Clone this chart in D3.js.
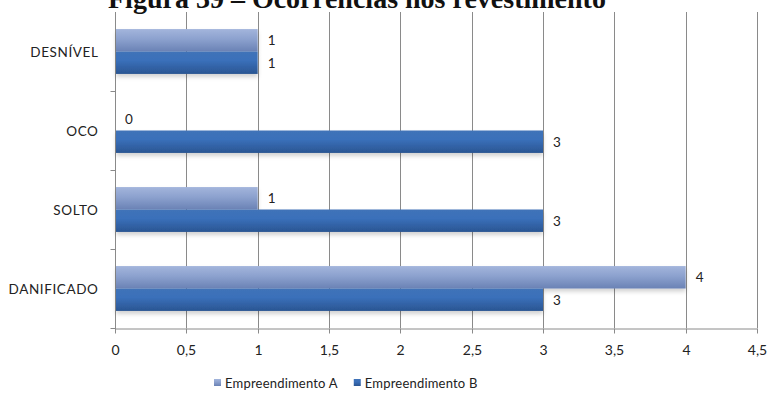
<!DOCTYPE html>
<html>
<head>
<meta charset="utf-8">
<script src="https://cdn.jsdelivr.net/npm/d3@7"></script>
<style>
  html, body { margin: 0; padding: 0; background: #fff; }
  svg { display: block; }
</style>
</head>
<body>
<svg id="chart" width="771" height="394"></svg>
<script>
// Data
const categories = ["DESNÍVEL", "OCO", "SOLTO", "DANIFICADO"];
const seriesNames = ["Empreendimento A", "Empreendimento B"];
const valuesA = [1, 0, 1, 4];
const valuesB = [1, 3, 3, 3];
const tickValues = [0, 0.5, 1, 1.5, 2, 2.5, 3, 3.5, 4, 4.5];
const titleText = "Figura 39 – Ocorrências nos revestimento";

(function draw() {
const svg = d3.select("#chart");
const plotLeft = 115, plotRight = 757, plotTop = 12, plotBottom = 328;
const sans = "Lato, 'Open Sans', sans-serif";

const x = d3.scaleLinear().domain([0, 4.5]).range([plotLeft, plotRight]);
const y = d3.scaleBand().domain(categories).range([plotTop, plotBottom]).padding(0);
const ySub = d3.scaleBand().domain(["A", "B"]).range([0, y.bandwidth()])
  .paddingInner(0).paddingOuter(0.76);

const defs = svg.append("defs");
function grad(id, stops) {
  const g = defs.append("linearGradient").attr("id", id)
    .attr("x1", 0).attr("y1", 0).attr("x2", 0).attr("y2", 1);
  stops.forEach(([o, c]) => g.append("stop").attr("offset", o).attr("stop-color", c));
}
grad("gA", [["0%", "#a3b5dc"], ["45%", "#8ca1ce"], ["100%", "#6a82b5"]]);
grad("gB", [["0%", "#4073b8"], ["40%", "#3a70ba"], ["100%", "#2a5592"]]);
const sh = defs.append("filter").attr("id", "shadow")
  .attr("x", "-5%").attr("y", "-20%").attr("width", "110%").attr("height", "160%");
sh.append("feDropShadow").attr("dx", 0).attr("dy", 3).attr("stdDeviation", 2)
  .attr("flood-color", "#000").attr("flood-opacity", 0.18);

// Title (runs off the top edge of the page)
svg.append("text")
  .attr("x", 108).attr("y", 8)
  .attr("font-family", "'Liberation Serif', 'Times New Roman', serif")
  .attr("font-weight", "bold").attr("font-size", 28).attr("fill", "#111")
  .text(titleText);

// Vertical gridlines
svg.append("g").selectAll("line").data(tickValues.slice(1)).join("line")
  .attr("x1", d => Math.round(x(d)) + 0.5).attr("x2", d => Math.round(x(d)) + 0.5)
  .attr("y1", plotTop).attr("y2", plotBottom)
  .attr("stroke", "#8a8a8a").attr("stroke-width", 1);

// X axis
const xAxis = svg.append("g").attr("transform", `translate(0,${plotBottom + 0.5})`)
  .call(d3.axisBottom(x).tickValues(tickValues).tickSizeInner(5).tickSizeOuter(0)
    .tickPadding(12).tickFormat(d => String(d).replace(".", ",")));
xAxis.select(".domain").attr("stroke", "#8a8a8a");
xAxis.selectAll(".tick line").attr("stroke", "#8a8a8a");
xAxis.selectAll(".tick").attr("transform", d => `translate(${Math.round(x(d)) + 0.5},0)`);
xAxis.selectAll("text").attr("font-family", sans)
  .attr("font-size", 14).attr("fill", "#222");

// Y axis
const yAxis = svg.append("g").attr("transform", `translate(${plotLeft + 0.5},0)`);
yAxis.append("line").attr("x1", 0).attr("x2", 0).attr("y1", plotTop).attr("y2", plotBottom + 5)
  .attr("stroke", "#8a8a8a");
const bounds = categories.slice(1).map(c => y(c)).concat([plotBottom]);
yAxis.selectAll("line.tk").data(bounds).join("line").attr("class", "tk")
  .attr("x1", -5).attr("x2", 0)
  .attr("y1", d => Math.round(d) + 0.5).attr("y2", d => Math.round(d) + 0.5)
  .attr("stroke", "#8a8a8a");
yAxis.selectAll("text").data(categories).join("text")
  .attr("x", -17).attr("y", d => y(d) + y.bandwidth() / 2)
  .attr("text-anchor", "end").attr("dominant-baseline", "central")
  .attr("font-family", sans).attr("font-size", 13.5).attr("letter-spacing", 0.6)
  .attr("fill", "#222").text(d => d);

// Bars
const rows = [];
categories.forEach((c, i) => {
  rows.push({ cat: c, key: "A", v: valuesA[i] });
  rows.push({ cat: c, key: "B", v: valuesB[i] });
});
svg.append("g").selectAll("rect").data(rows).join("rect")
  .attr("x", plotLeft + 1)
  .attr("y", d => y(d.cat) + ySub(d.key))
  .attr("width", d => Math.max(0, x(d.v) - plotLeft - 1))
  .attr("height", ySub.bandwidth())
  .attr("fill", d => d.key === "A" ? "url(#gA)" : "url(#gB)")
  .attr("filter", "url(#shadow)");

// Value labels
svg.append("g").selectAll("text").data(rows).join("text")
  .attr("x", d => x(d.v) + 10)
  .attr("y", d => y(d.cat) + ySub(d.key) + ySub.bandwidth() / 2)
  .attr("dominant-baseline", "central")
  .attr("font-family", sans).attr("font-size", 13.5)
  .attr("fill", "#222").text(d => d.v);

// Legend
const legend = svg.append("g").attr("transform", "translate(214,383)");
let lx = 0;
seriesNames.forEach((n, i) => {
  const g = legend.append("g").attr("transform", `translate(${lx},0)`);
  g.append("rect").attr("x", 0).attr("y", -4).attr("width", 7).attr("height", 7)
    .attr("fill", i === 0 ? "url(#gA)" : "url(#gB)");
  const t = g.append("text").attr("x", 11).attr("y", 0).attr("dominant-baseline", "central")
    .attr("font-family", sans).attr("font-size", 13).attr("letter-spacing", 0.2)
    .attr("fill", "#222").text(n);
  lx += 11 + t.node().getComputedTextLength() + 16;
});
})();
</script>
</body>
</html>
